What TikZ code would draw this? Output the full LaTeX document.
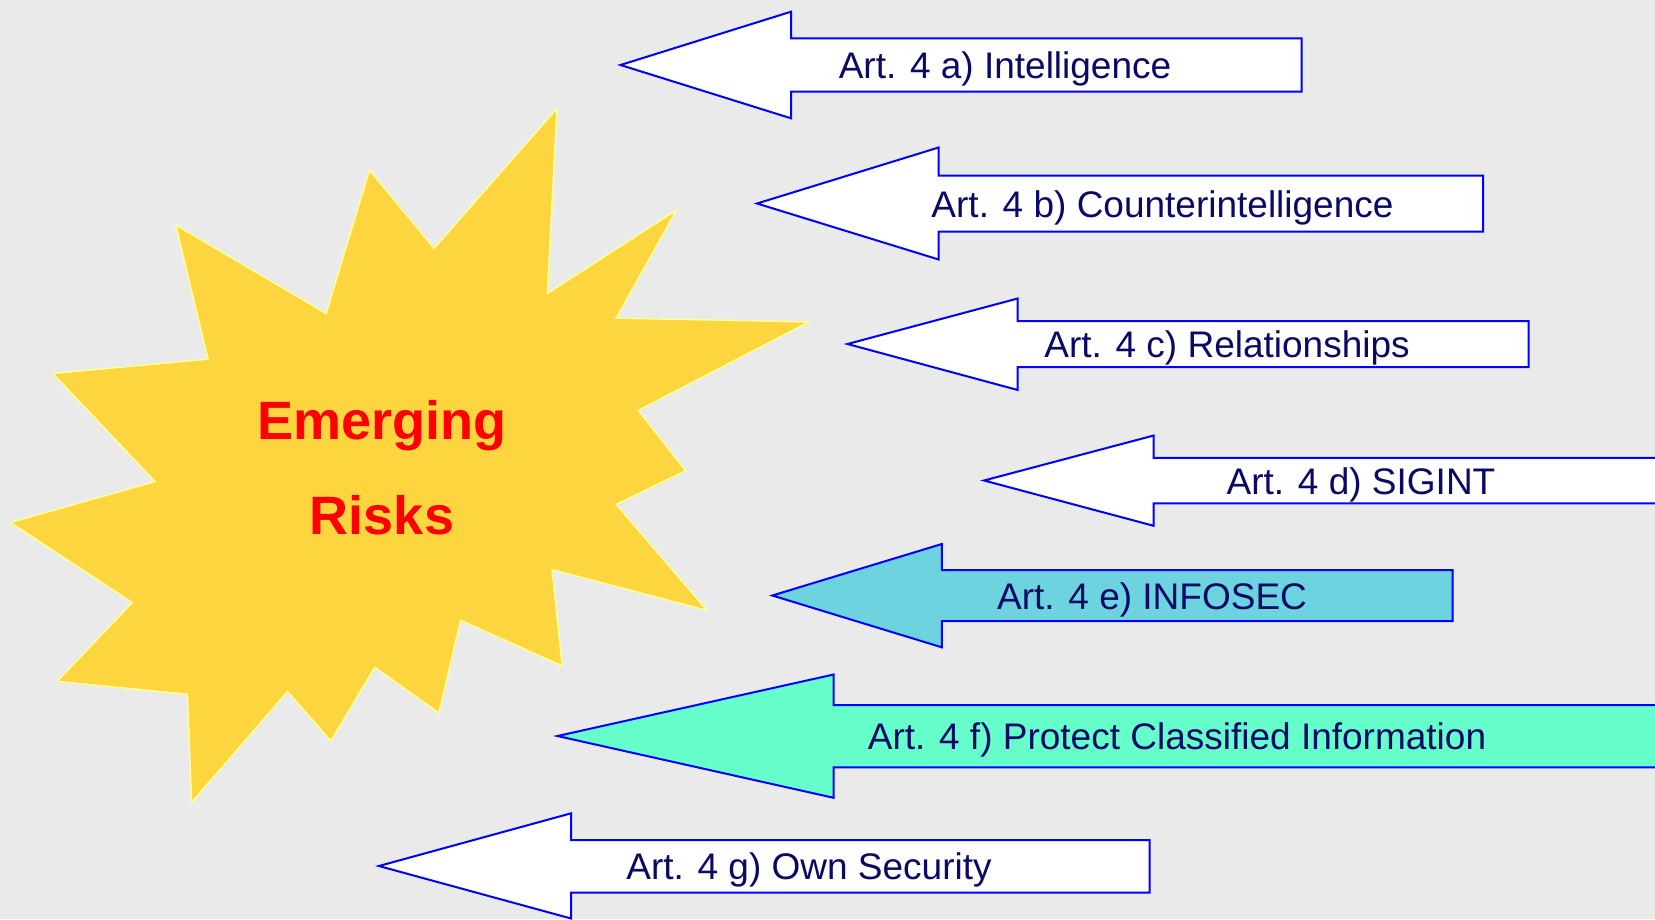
\documentclass[tikz,border=0pt]{standalone}
\usepackage{fontspec}
\setmainfont{Liberation Sans}
\definecolor{bgc}{HTML}{EAEAEA}
\definecolor{starfill}{HTML}{FCD53F}
\definecolor{staredge}{HTML}{FFFF99}
\definecolor{arredge}{HTML}{0000FF}
\definecolor{arrtext}{HTML}{0A0A66}
\definecolor{infosec}{HTML}{6DD3DF}
\definecolor{protect}{HTML}{66FFCC}
\begin{document}
\begin{tikzpicture}[x=1pt,y=-1pt,
  arrowbox/.style={draw=arredge,line width=2pt,line join=miter,fill=white},
  arttext/.style={anchor=base,inner sep=0pt,text=arrtext,font=\fontsize{37}{42}\selectfont},
  risktext/.style={anchor=base,inner sep=0pt,text=red,font=\fontsize{54}{60}\selectfont\bfseries}]
\fill[bgc] (0,0) rectangle (1655,919);
\useasboundingbox (0,0) rectangle (1655,919);
\clip (0,0) rectangle (1655,919);
% star
\draw[fill=starfill,draw=staredge,line width=1.5pt,line join=miter]
  (556.9,108.6) -- (547.4,293.5) -- (676.5,210.1) -- (616.2,318.1) -- (808.9,321.9)
  -- (638.4,410.3) -- (685.5,470.8) -- (616.2,504.4) -- (707.2,610.5) -- (552.1,569.6)
  -- (562.2,665.9) -- (460.6,620.3) -- (438.9,713.0) -- (374.8,667.3) -- (330.9,740.9)
  -- (287.5,691.5) -- (191.6,802.4) -- (187.4,694.3) -- (57.2,681.3) -- (132.3,602.6)
  -- (10.6,522.5) -- (155.1,481.6) -- (52.9,373.5) -- (208.0,359.1) -- (175.8,225.0)
  -- (326.1,313.5) -- (369.5,170.1) -- (434.1,248.3) -- cycle;
\node[risktext] (em1) at (382,439) {Emerging};
\node[risktext] (em2) at (382,534.6) {Risks};
% arrows
\draw[arrowbox] (620.5,65) -- (791,11.7) -- (791,38.3) -- (1301.5,38.3) -- (1301.5,91.7) -- (791,91.7) -- (791,118.3) -- cycle;
\node[arttext] (ta) at (1005,78.5) {Art. 4 a) Intelligence};
\draw[arrowbox] (757,203.5) -- (938.6,147.5) -- (938.6,175.7) -- (1483,175.7) -- (1483,231.7) -- (938.6,231.7) -- (938.6,259.5) -- cycle;
\node[arttext] (tb) at (1162.5,217.5) {Art. 4 b) Counterintelligence};
\draw[arrowbox] (847.5,344) -- (1017.7,298.5) -- (1017.7,321.1) -- (1528.5,321.1) -- (1528.5,367.2) -- (1017.7,367.2) -- (1017.7,390) -- cycle;
\node[arttext] (tc) at (1227,357.5) {Art. 4 c) Relationships};
\draw[arrowbox] (984,480.5) -- (1153.7,435.5) -- (1153.7,457.9) -- (1665,457.9) -- (1665,503.4) -- (1153.7,503.4) -- (1153.7,525.8) -- cycle;
\node[arttext] (td) at (1361,494) {Art. 4 d) SIGINT};
\draw[arrowbox,fill=infosec] (772.3,595.5) -- (941.8,544) -- (941.8,570) -- (1452.7,570) -- (1452.7,621) -- (941.8,621) -- (941.8,647.3) -- cycle;
\node[arttext] (te) at (1152,609) {Art. 4 e) INFOSEC};
\draw[arrowbox,fill=protect] (557.5,736) -- (833.7,674.5) -- (833.7,705) -- (1665,705) -- (1665,767.3) -- (833.7,767.3) -- (833.7,797.8) -- cycle;
\node[arttext] (tf) at (1177,749.5) {Art. 4 f) Protect Classified Information};
\draw[arrowbox] (378.9,866) -- (571.1,813.3) -- (571.1,840) -- (1149.6,840) -- (1149.6,892.7) -- (571.1,892.7) -- (571.1,918.5) -- cycle;
\node[arttext] (tg) at (809,879.5) {Art. 4 g) Own Security};
\end{tikzpicture}
\end{document}
